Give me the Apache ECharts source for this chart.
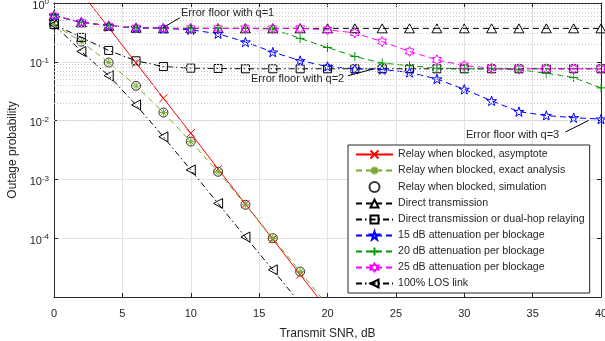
<!DOCTYPE html>
<html>
<head>
<meta charset="utf-8">
<script src="https://cdn.jsdelivr.net/npm/echarts@6/dist/echarts.min.js"></script>
<style>
  html, body { margin: 0; padding: 0; background: #fff; }
  #main { width: 605px; height: 341px; }
</style>
</head>
<body>
<div id="main"></div>
<script>
// transmit SNR in dB, one point every 2 dB
const snr = [0, 2, 4, 6, 8, 10, 12, 14, 16, 18, 20, 22, 24, 26, 28, 30, 32, 34, 36, 38, 40];
const relayAsymptote = [null, 1.5, 0.38, 0.096, 0.024, 0.0061, 0.0015, 3.8e-4, 9.6e-5, 2.4e-5, 6.1e-6];
const relayExact = [0.43, 0.22, 0.097, 0.039, 0.0137, 0.0044, 0.00135, 3.7e-4, 1.0e-4, 2.7e-5, 7.2e-6];
const relaySim = [0.43, 0.22, 0.097, 0.039, 0.0137, 0.0044, 0.00135, 3.7e-4, 1.0e-4, 2.7e-5];
const directTx = [0.61, 0.47, 0.41, 0.38, 0.37, 0.37, 0.37, 0.37, 0.37, 0.37, 0.37, 0.37, 0.37, 0.37, 0.37, 0.37, 0.37, 0.37, 0.37, 0.37, 0.37];
const directOrDualHop = [0.43, 0.26, 0.156, 0.104, 0.083, 0.078, 0.077, 0.076, 0.076, 0.076, 0.076, 0.076, 0.076, 0.076, 0.076, 0.076, 0.076, 0.076, 0.076, 0.076, 0.076];
const att15 = [0.61, 0.47, 0.41, 0.38, 0.37, 0.35, 0.30, 0.217, 0.146, 0.105, 0.083, 0.076, 0.074, 0.066, 0.051, 0.034, 0.0217, 0.0142, 0.0122, 0.0112, 0.0106];
const att20 = [0.61, 0.47, 0.41, 0.38, 0.37, 0.37, 0.37, 0.37, 0.36, 0.25, 0.175, 0.123, 0.095, 0.086, 0.078, 0.076, 0.076, 0.073, 0.064, 0.054, 0.036];
const att25 = [0.61, 0.47, 0.41, 0.38, 0.37, 0.37, 0.37, 0.37, 0.37, 0.37, 0.35, 0.31, 0.22, 0.15, 0.108, 0.086, 0.078, 0.076, 0.076, 0.076, 0.076];
const losLink = [0.43, 0.15, 0.058, 0.0185, 0.0053, 0.00145, 3.9e-4, 1.05e-4, 2.9e-5, 7.8e-6];
// dotted minor grid levels of the log axis
const minorLevels = [];
[1e-5, 1e-4, 1e-3, 1e-2, 1e-1].forEach(function (d) {
  for (let k = 2; k <= 9; k++) minorLevels.push(d * k);
});

const FONT = "Liberation Sans";
const INK = "#262626";

function pairs(arr) {
  return arr.map(function (v, i) { return [snr[i], v]; }).filter(function (p) { return p[1] != null; });
}

// marker shapes (MATLAB style)
const SYM_X = "path://M0,0L10,10M10,0L0,10";
const SYM_STAR = "path://M5,0L5,10M0,5L10,5M1.5,1.5L8.5,8.5M8.5,1.5L1.5,8.5";
const SYM_PLUS = "path://M5,0L5,10M0,5L10,5";
const SYM_TRI = "path://M5,0L10,9L0,9Z";
const SYM_TRI_L = "path://M0,5L9,0L9,10Z";
const SYM_PENTA = "path://M5,0L6.12,3.46L9.76,3.46L6.82,5.59L7.94,9.05L5,6.91L2.06,9.05L3.18,5.59L0.24,3.46L3.88,3.46Z";
const SYM_HEXA = "path://M5,0L6.44,2.5L9.33,2.5L7.89,5L9.33,7.5L6.44,7.5L5,10L3.56,7.5L0.67,7.5L2.11,5L0.67,2.5L3.56,2.5Z";

const DASH = [6, 4];
const DASHDOT = [6, 3, 1.5, 3];

function lineSeries(name, data, color, dash, symbol, size) {
  return {
    name: name,
    type: "line",
    data: pairs(data),
    symbol: symbol,
    symbolSize: size,
    symbolKeepAspect: true,
    lineStyle: { color: color, width: 1, type: dash },
    itemStyle: { color: "rgba(0,0,0,0)", borderColor: color, borderWidth: 1 },
    emphasis: { disabled: true },
    animation: false
  };
}

const series = [
  lineSeries("Relay when blocked, asymptote", relayAsymptote, "#ff0000", "solid", SYM_X, 8),
  lineSeries("Relay when blocked, exact analysis", relayExact, "#77ac30", DASH, SYM_STAR, 8),
  {
    name: "Relay when blocked, simulation",
    type: "scatter",
    data: pairs(relaySim),
    symbol: "circle",
    symbolSize: 9,
    itemStyle: { color: "rgba(0,0,0,0)", borderColor: "#000", borderWidth: 1 },
    emphasis: { disabled: true },
    animation: false
  },
  lineSeries("Direct transmission", directTx, "#000000", DASH, SYM_TRI, 10),
  lineSeries("Direct transmission or dual-hop relaying", directOrDualHop, "#000000", DASHDOT, "rect", 8),
  lineSeries("15 dB attenuation per blockage", att15, "#0000ff", DASH, SYM_PENTA, 10),
  lineSeries("20 dB attenuation per blockage", att20, "#009900", DASH, SYM_PLUS, 9),
  lineSeries("25 dB attenuation per blockage", att25, "#ff00ff", DASH, SYM_HEXA, 10),
  lineSeries("100% LOS link", losLink, "#000000", DASHDOT, SYM_TRI_L, 10),
  {
    type: "line",
    data: [],
    silent: true,
    z: 0,
    markLine: {
      silent: true,
      symbol: "none",
      animation: false,
      label: { show: false },
      lineStyle: { color: "#c8c8c8", width: 1, type: [1, 2] },
      data: minorLevels.map(function (v) { return { yAxis: v }; })
    }
  },
  {
    type: "line",
    data: [],
    silent: true,
    z: 10,
    markLine: {
      silent: true,
      animation: false,
      symbol: ["none", "arrow"],
      symbolSize: [0, 9],
      label: { show: false },
      lineStyle: { color: "#000", width: 1, type: "solid" },
      data: [
        [{ coord: [9.2, 0.56] }, { coord: [7.97, 0.38] }],
        [{ coord: [21.5, 0.058] }, { coord: [23.3, 0.075] }],
        [{ coord: [37.4, 0.0064] }, { coord: [39.1, 0.0101] }]
      ]
    }
  }
];

const axisCommon = {
  axisLine: { show: true, onZero: false, lineStyle: { color: INK, width: 1 } },
  axisTick: { show: true, inside: true, length: 4, lineStyle: { color: INK } }
};

const option = {
  backgroundColor: "#fff",
  animation: false,
  textStyle: { fontFamily: FONT },
  grid: { left: 54, right: 4, top: 3, bottom: 44, outerBoundsMode: "none", containLabel: false },
  xAxis: [
    Object.assign({
      type: "value", min: 0, max: 40, interval: 5, position: "bottom",
      name: "Transmit SNR, dB", nameLocation: "middle", nameGap: 31,
      nameTextStyle: { color: INK, fontSize: 12, fontFamily: FONT },
      axisLabel: { color: INK, fontSize: 11, margin: 11, fontFamily: FONT },
      splitLine: { show: true, lineStyle: { color: "#e3e3e3", width: 1 } }
    }, axisCommon),
    Object.assign({
      type: "value", min: 0, max: 40, interval: 5, position: "top",
      axisLabel: { show: false }, splitLine: { show: false }
    }, axisCommon)
  ],
  yAxis: [
    Object.assign({
      type: "log", logBase: 10, min: 1e-5, max: 1, position: "left",
      name: "Outage probability", nameLocation: "middle", nameGap: 33,
      nameTextStyle: { color: INK, fontSize: 12, fontFamily: FONT },
      axisLabel: {
        color: INK, fontSize: 11, margin: 5, fontFamily: FONT,
        padding: [5, 0, 0, 0],
        formatter: function (v) {
          const e = Math.round(Math.log10(v));
          if (e === -5) return "";
          return "10{sup|" + e + "}";
        },
        rich: { sup: { fontSize: 8, color: INK, fontFamily: FONT, padding: [0, 0, 7, 0] } }
      },
      splitLine: { show: true, lineStyle: { color: "#e3e3e3", width: 1 } }
    }, axisCommon),
    Object.assign({
      type: "log", logBase: 10, min: 1e-5, max: 1, position: "right",
      axisLabel: { show: false }, splitLine: { show: false }
    }, axisCommon)
  ],
  legend: {
    orient: "vertical",
    left: 348,
    top: 145,
    padding: [4, 5, 4, 7],
    itemWidth: 37,
    itemHeight: 10,
    itemGap: 5,
    backgroundColor: "#fff",
    borderColor: INK,
    borderWidth: 1,
    selectedMode: false,
    textStyle: { color: INK, fontSize: 10.6, lineHeight: 10, fontFamily: FONT },
    data: series.filter(function (s) { return s.name; }).map(function (s) { return s.name; })
  },
  graphic: [
    { type: "text", left: 181, top: 7, z: 20, style: { text: "Error floor with q=1", fill: INK, font: "11px " + FONT } },
    { type: "text", left: 251, top: 73, z: 20, style: { text: "Error floor with q=2", fill: INK, font: "11px " + FONT } },
    { type: "text", left: 466, top: 129, z: 20, style: { text: "Error floor with q=3", fill: INK, font: "11px " + FONT } }
  ],
  series: series
};

const chart = echarts.init(document.getElementById("main"), null, { renderer: "canvas" });
chart.setOption(option);
</script>
</body>
</html>
